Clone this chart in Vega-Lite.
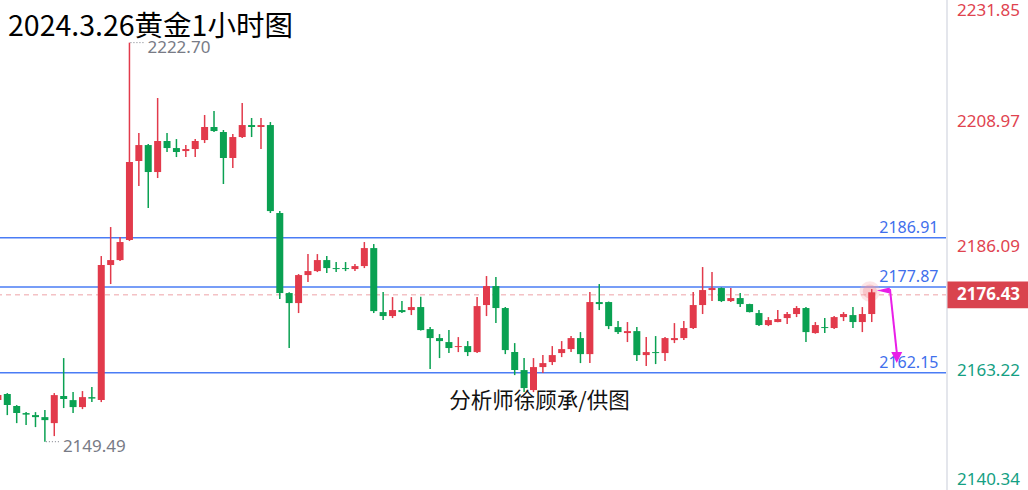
{
  "$schema": "https://vega.github.io/schema/vega-lite/v6.json",
  "width": 947,
  "height": 490,
  "autosize": {"type": "none"},
  "padding": {"left": 0, "top": 0, "right": 81, "bottom": 0},
  "background": "white",
  "config": {"view": {"stroke": null}, "font": "Noto Sans"},
  "datasets": {
    "candles": [
      {"i":0,"o":2157.13,"h":2158.41,"l":2156.76,"c":2158.04},
      {"i":1,"o":2158.22,"h":2158.41,"l":2154.37,"c":2156.21},
      {"i":2,"o":2156.02,"h":2156.21,"l":2152.90,"c":2154.74},
      {"i":3,"o":2154.74,"h":2154.92,"l":2152.54,"c":2154.46},
      {"i":4,"o":2154.37,"h":2154.92,"l":2152.17,"c":2154.00},
      {"i":5,"o":2154.00,"h":2155.29,"l":2149.49,"c":2153.45},
      {"i":6,"o":2152.90,"h":2158.41,"l":2150.52,"c":2158.04},
      {"i":7,"o":2157.86,"h":2164.83,"l":2155.66,"c":2157.31},
      {"i":8,"o":2157.12,"h":2158.59,"l":2154.74,"c":2155.84},
      {"i":9,"o":2155.84,"h":2158.78,"l":2155.47,"c":2157.67},
      {"i":10,"o":2157.67,"h":2159.51,"l":2156.76,"c":2157.40},
      {"i":11,"o":2157.12,"h":2183.55,"l":2156.76,"c":2181.90},
      {"i":12,"o":2181.90,"h":2188.87,"l":2178.41,"c":2182.81},
      {"i":13,"o":2182.81,"h":2187.03,"l":2182.63,"c":2186.12},
      {"i":14,"o":2186.48,"h":2222.70,"l":2186.30,"c":2200.79},
      {"i":15,"o":2200.98,"h":2206.12,"l":2196.39,"c":2203.91},
      {"i":16,"o":2203.91,"h":2204.10,"l":2192.35,"c":2198.96},
      {"i":17,"o":2198.96,"h":2212.54,"l":2197.86,"c":2204.65},
      {"i":18,"o":2204.65,"h":2206.12,"l":2202.63,"c":2203.36},
      {"i":19,"o":2203.36,"h":2205.01,"l":2201.71,"c":2202.63},
      {"i":20,"o":2202.81,"h":2203.91,"l":2201.71,"c":2203.18},
      {"i":21,"o":2203.18,"h":2205.01,"l":2201.71,"c":2204.65},
      {"i":22,"o":2204.83,"h":2209.42,"l":2204.28,"c":2207.22},
      {"i":23,"o":2207.22,"h":2210.15,"l":2206.30,"c":2206.48},
      {"i":24,"o":2206.30,"h":2206.67,"l":2196.76,"c":2201.53},
      {"i":25,"o":2201.53,"h":2205.93,"l":2199.69,"c":2205.38},
      {"i":26,"o":2205.38,"h":2211.62,"l":2205.20,"c":2207.58},
      {"i":27,"o":2207.58,"h":2208.87,"l":2205.38,"c":2207.22},
      {"i":28,"o":2207.22,"h":2208.87,"l":2203.18,"c":2207.58},
      {"i":29,"o":2207.58,"h":2208.13,"l":2191.44,"c":2191.80},
      {"i":30,"o":2191.44,"h":2191.80,"l":2175.66,"c":2176.76},
      {"i":31,"o":2176.76,"h":2176.90,"l":2166.67,"c":2174.92},
      {"i":32,"o":2174.92,"h":2180.24,"l":2173.09,"c":2180.06},
      {"i":33,"o":2180.06,"h":2183.91,"l":2178.78,"c":2180.79},
      {"i":34,"o":2180.79,"h":2183.91,"l":2180.61,"c":2182.81},
      {"i":35,"o":2182.81,"h":2183.55,"l":2180.43,"c":2181.34},
      {"i":36,"o":2181.34,"h":2182.45,"l":2180.61,"c":2181.16},
      {"i":37,"o":2181.34,"h":2182.45,"l":2180.79,"c":2181.16},
      {"i":38,"o":2181.16,"h":2182.08,"l":2180.79,"c":2181.71},
      {"i":39,"o":2181.71,"h":2186.12,"l":2181.34,"c":2185.01},
      {"i":40,"o":2185.01,"h":2185.75,"l":2173.09,"c":2173.45},
      {"i":41,"o":2173.27,"h":2176.94,"l":2171.80,"c":2172.54},
      {"i":42,"o":2172.54,"h":2176.02,"l":2172.17,"c":2173.64},
      {"i":43,"o":2173.64,"h":2175.29,"l":2173.09,"c":2173.27},
      {"i":44,"o":2173.64,"h":2176.02,"l":2172.72,"c":2174.19},
      {"i":45,"o":2174.19,"h":2176.08,"l":2169.88,"c":2169.97},
      {"i":46,"o":2170.15,"h":2170.52,"l":2162.81,"c":2168.50},
      {"i":47,"o":2168.50,"h":2169.23,"l":2164.83,"c":2167.95},
      {"i":48,"o":2167.77,"h":2169.97,"l":2165.75,"c":2166.67},
      {"i":49,"o":2166.85,"h":2168.68,"l":2165.93,"c":2167.03},
      {"i":50,"o":2167.03,"h":2167.95,"l":2165.20,"c":2165.93},
      {"i":51,"o":2165.93,"h":2176.02,"l":2165.75,"c":2174.37},
      {"i":52,"o":2174.56,"h":2179.88,"l":2172.54,"c":2178.04},
      {"i":53,"o":2178.04,"h":2179.69,"l":2171.25,"c":2174.01},
      {"i":54,"o":2174.01,"h":2174.20,"l":2165.56,"c":2166.30},
      {"i":55,"o":2165.93,"h":2167.58,"l":2161.71,"c":2162.63},
      {"i":56,"o":2162.63,"h":2164.83,"l":2158.59,"c":2159.33},
      {"i":57,"o":2158.96,"h":2164.83,"l":2158.59,"c":2163.18},
      {"i":58,"o":2163.18,"h":2165.38,"l":2162.08,"c":2163.91},
      {"i":59,"o":2164.10,"h":2167.03,"l":2163.55,"c":2165.38},
      {"i":60,"o":2165.75,"h":2167.95,"l":2165.01,"c":2166.48},
      {"i":61,"o":2166.48,"h":2168.87,"l":2165.93,"c":2168.50},
      {"i":62,"o":2168.50,"h":2169.60,"l":2163.91,"c":2165.56},
      {"i":63,"o":2165.56,"h":2176.94,"l":2163.91,"c":2175.11},
      {"i":64,"o":2175.11,"h":2178.41,"l":2173.64,"c":2174.74},
      {"i":65,"o":2175.11,"h":2175.20,"l":2170.15,"c":2170.70},
      {"i":66,"o":2170.52,"h":2171.62,"l":2169.23,"c":2169.60},
      {"i":67,"o":2169.42,"h":2171.44,"l":2167.77,"c":2169.78},
      {"i":68,"o":2169.78,"h":2170.52,"l":2164.28,"c":2165.38},
      {"i":69,"o":2165.38,"h":2168.68,"l":2163.36,"c":2165.93},
      {"i":70,"o":2165.93,"h":2168.87,"l":2163.73,"c":2165.75},
      {"i":71,"o":2165.75,"h":2168.68,"l":2164.28,"c":2168.50},
      {"i":72,"o":2168.13,"h":2171.25,"l":2167.58,"c":2168.50},
      {"i":73,"o":2168.50,"h":2171.62,"l":2168.13,"c":2170.34},
      {"i":74,"o":2170.34,"h":2176.94,"l":2170.15,"c":2174.56},
      {"i":75,"o":2174.56,"h":2181.53,"l":2172.91,"c":2177.31},
      {"i":76,"o":2177.31,"h":2180.61,"l":2175.29,"c":2177.68},
      {"i":77,"o":2177.68,"h":2177.80,"l":2175.11,"c":2175.29},
      {"i":78,"o":2175.29,"h":2177.68,"l":2175.11,"c":2175.84},
      {"i":79,"o":2175.84,"h":2176.76,"l":2174.19,"c":2174.74},
      {"i":80,"o":2174.74,"h":2174.80,"l":2173.20,"c":2173.27},
      {"i":81,"o":2173.09,"h":2173.64,"l":2170.70,"c":2170.89},
      {"i":82,"o":2170.89,"h":2172.35,"l":2170.70,"c":2171.80},
      {"i":83,"o":2171.44,"h":2173.64,"l":2171.40,"c":2171.99},
      {"i":84,"o":2172.17,"h":2173.27,"l":2171.07,"c":2172.91},
      {"i":85,"o":2172.91,"h":2174.37,"l":2172.35,"c":2174.01},
      {"i":86,"o":2174.01,"h":2174.19,"l":2167.77,"c":2169.60},
      {"i":87,"o":2169.42,"h":2171.44,"l":2169.30,"c":2170.89},
      {"i":88,"o":2170.52,"h":2172.17,"l":2169.42,"c":2170.34},
      {"i":89,"o":2170.34,"h":2172.54,"l":2170.15,"c":2172.35},
      {"i":90,"o":2172.35,"h":2173.27,"l":2171.62,"c":2172.91},
      {"i":91,"o":2172.72,"h":2174.19,"l":2170.34,"c":2171.44},
      {"i":92,"o":2171.44,"h":2174.19,"l":2169.60,"c":2172.91},
      {"i":93,"o":2172.91,"h":2177.49,"l":2171.44,"c":2176.90}
    ],
    "levels": [{"v": 2186.91, "t": "2186.91"}, {"v": 2177.87, "t": "2177.87"}, {"v": 2162.15, "t": "2162.15"}],
    "ticks": [{"v": 2231.85, "t": "2231.85"}, {"v": 2208.97, "t": "2208.97"}, {"v": 2186.09, "t": "2186.09"}, {"v": 2163.22, "t": "2163.22"}, {"v": 2140.34, "t": "2140.34"}],
    "notes": [{"i": 14, "v": 2222.70, "t": "2222.70"}, {"i": 5, "v": 2149.49, "t": "2149.49"}],
    "arrow": [{"i": 94.94, "v": 2177.49}, {"i": 95.66, "v": 2165.93}]
  },
  "layer": [
    {
      "data": {"name": "levels"},
      "mark": {"type": "rule", "color": "#4a7cf5", "strokeWidth": 1.5},
      "encoding": {
        "y": {"field": "v", "type": "quantitative", "scale": {"domain": [2140.63, 2230.52], "nice": false, "zero": false, "padding": 0, "clamp": true}, "axis": null}
      }
    },
    {
      "data": {"name": "levels"},
      "mark": {"type": "text", "align": "right", "baseline": "middle", "dy": -10, "color": "#3f6fec", "fontSize": 16, "font": "Noto Sans"},
      "encoding": {
        "x": {"datum": 100.1, "type": "quantitative", "scale": {"domain": [0.223, 101.01], "nice": false, "zero": false, "padding": 0}, "axis": null},
        "y": {"field": "v", "type": "quantitative", "axis": null},
        "text": {"field": "t"}
      }
    },
    {
      "data": {"values": [{}]},
      "mark": {"type": "rule", "color": "#eea2a7", "strokeWidth": 1, "strokeDash": [5, 4]},
      "encoding": {
        "y": {"datum": 2176.43, "type": "quantitative", "axis": null}
      }
    },
    {
      "data": {"values": [{}]},
      "mark": {"type": "point", "filled": true, "shape": "circle", "size": 420, "color": "#f7a8ae", "opacity": 0.3},
      "encoding": {
        "x": {"datum": 92.8, "type": "quantitative", "axis": null},
        "y": {"datum": 2177.05, "type": "quantitative", "axis": null}
      }
    },
    {
      "data": {"values": [{}]},
      "mark": {"type": "point", "filled": true, "shape": "circle", "size": 200, "color": "#f28e97", "opacity": 0.35},
      "encoding": {
        "x": {"datum": 92.8, "type": "quantitative", "axis": null},
        "y": {"datum": 2177.05, "type": "quantitative", "axis": null}
      }
    },
    {
      "data": {"name": "candles"},
      "mark": {"type": "rule", "strokeWidth": 1.5},
      "encoding": {
        "x": {"field": "i", "type": "quantitative", "axis": null},
        "y": {"field": "l", "type": "quantitative", "axis": null},
        "y2": {"field": "h"},
        "color": {"condition": {"test": "datum.c > datum.o", "value": "#e23a4b"}, "value": "#0aa152"}
      }
    },
    {
      "data": {"name": "candles"},
      "mark": {"type": "bar", "size": 7},
      "encoding": {
        "x": {"field": "i", "type": "quantitative", "axis": null},
        "y": {"field": "o", "type": "quantitative", "axis": null},
        "y2": {"field": "c"},
        "color": {"condition": {"test": "datum.c > datum.o", "value": "#e23a4b"}, "value": "#0aa152"}
      }
    },
    {
      "data": {"name": "notes"},
      "mark": {"type": "rule", "color": "#787b86", "strokeWidth": 1, "strokeDash": [1, 2], "xOffset": 1, "x2Offset": 16},
      "encoding": {
        "x": {"field": "i", "type": "quantitative", "axis": null},
        "x2": {"field": "i"},
        "y": {"field": "v", "type": "quantitative", "axis": null}
      }
    },
    {
      "data": {"name": "notes"},
      "mark": {"type": "text", "align": "left", "baseline": "middle", "dx": 18, "dy": 5, "color": "#787b86", "fontSize": 17, "font": "Noto Sans"},
      "encoding": {
        "x": {"field": "i", "type": "quantitative", "axis": null},
        "y": {"field": "v", "type": "quantitative", "axis": null},
        "text": {"field": "t"}
      }
    },
    {
      "data": {"name": "arrow"},
      "mark": {"type": "line", "color": "#e91ee8", "strokeWidth": 2},
      "encoding": {
        "x": {"field": "i", "type": "quantitative", "axis": null},
        "y": {"field": "v", "type": "quantitative", "axis": null}
      }
    },
    {
      "data": {"values": [{}]},
      "mark": {"type": "point", "filled": true, "shape": "M -1 -1 L 1 -1 L 0 1 Z", "size": 121, "color": "#e91ee8", "opacity": 1},
      "encoding": {
        "x": {"datum": 95.66, "type": "quantitative", "axis": null},
        "y": {"datum": 2164.92, "type": "quantitative", "axis": null}
      }
    },
    {
      "data": {"values": [{}]},
      "mark": {"type": "point", "filled": true, "shape": "M -1 0 L 1 -0.45 L 1 0.45 Z", "size": 170, "color": "#e91ee8", "opacity": 1},
      "encoding": {
        "x": {"datum": 94.23, "type": "quantitative", "axis": null},
        "y": {"datum": 2177.22, "type": "quantitative", "axis": null}
      }
    },
    {
      "data": {"values": [{}]},
      "mark": {"type": "rule", "color": "#e4e6ec", "strokeWidth": 2},
      "encoding": {
        "x": {"datum": 101.01, "type": "quantitative", "axis": null}
      }
    },
    {
      "data": {"name": "ticks"},
      "mark": {"type": "text", "align": "left", "baseline": "middle", "fontSize": 17, "font": "Noto Sans",
        "dy": {"expr": "datum.v > 2230 ? 10.5 : (datum.v < 2141 ? -10 : 4.5)"}},
      "encoding": {
        "x": {"datum": 102.07, "type": "quantitative", "axis": null},
        "y": {"field": "v", "type": "quantitative", "axis": null},
        "text": {"field": "t"},
        "color": {"condition": {"test": "datum.v > 2176.43", "value": "#e0434f"}, "value": "#14a083"}
      }
    },
    {
      "data": {"values": [{}]},
      "mark": {"type": "rect", "color": "#d9434e", "yOffset": -13.3, "y2Offset": 13.3},
      "encoding": {
        "x": {"datum": 101.06, "type": "quantitative", "axis": null},
        "x2": {"datum": 109.7},
        "y": {"datum": 2176.43, "type": "quantitative", "axis": null},
        "y2": {"datum": 2176.43}
      }
    },
    {
      "data": {"values": [{"t": "2176.43"}]},
      "mark": {"type": "text", "align": "left", "baseline": "middle", "color": "#ffffff", "fontSize": 17, "fontWeight": "bold", "font": "Noto Sans"},
      "encoding": {
        "x": {"datum": 102.07, "type": "quantitative", "axis": null},
        "y": {"datum": 2176.43, "type": "quantitative", "axis": null},
        "text": {"field": "t"}
      }
    },
    {
      "data": {"values": [{"t": "分析师徐顾承/供图"}]},
      "mark": {"type": "text", "align": "center", "baseline": "middle", "color": "#111111", "fontSize": 21.5, "font": "Noto Sans CJK SC"},
      "encoding": {
        "x": {"datum": 57.64, "type": "quantitative", "axis": null},
        "y": {"datum": 2156.76, "type": "quantitative", "axis": null},
        "text": {"field": "t"}
      }
    },
    {
      "data": {"values": [{"t": "2024.3.26黄金1小时图"}]},
      "mark": {"type": "text", "align": "left", "baseline": "alphabetic", "color": "#000000", "fontSize": 28.5, "font": "Noto Sans CJK SC"},
      "encoding": {
        "x": {"datum": 1.074, "type": "quantitative", "axis": null},
        "y": {"datum": 2223.9, "type": "quantitative", "axis": null},
        "text": {"field": "t"}
      }
    }
  ]
}
